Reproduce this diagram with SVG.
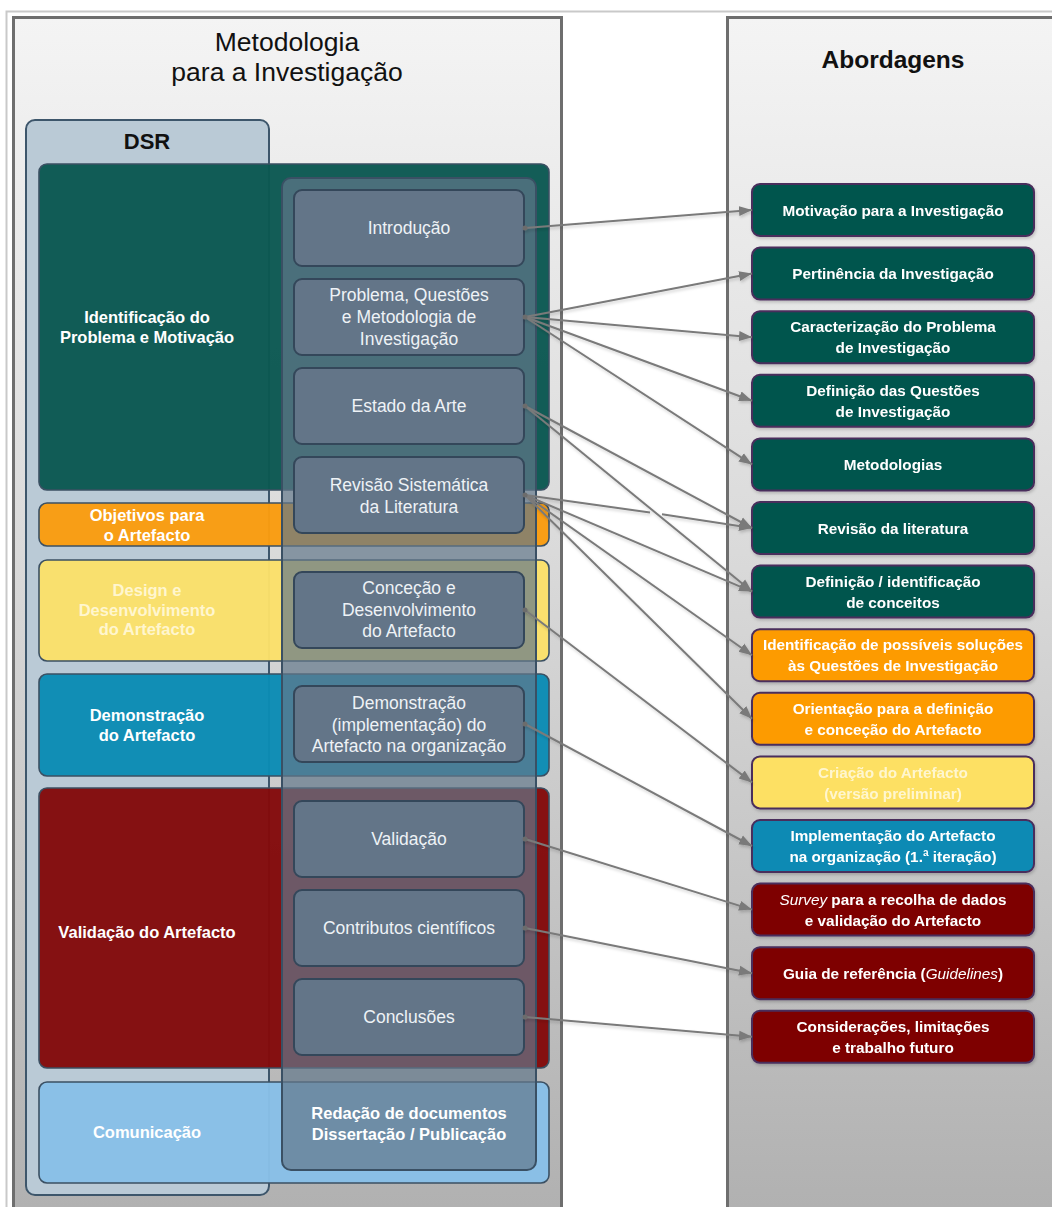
<svg xmlns="http://www.w3.org/2000/svg" width="1052" height="1207" viewBox="0 0 1052 1207">
  <defs>
    <linearGradient id="panelFill" gradientUnits="userSpaceOnUse" x1="0" y1="17" x2="0" y2="1207">
      <stop offset="0" stop-color="#f4f4f4"/>
      <stop offset="0.45" stop-color="#dadada"/>
      <stop offset="1" stop-color="#b1b1b1"/>
    </linearGradient>
    <marker id="arrow" markerUnits="userSpaceOnUse" markerWidth="14" markerHeight="12" viewBox="0 0 14 12" refX="13" refY="6" orient="auto">
      <path d="M0,1 L13,6 L0,11 Z" fill="#7a7a7a"/>
    </marker>
    <filter id="soft" x="-5%" y="-5%" width="110%" height="120%">
      <feDropShadow dx="1" dy="2" stdDeviation="1.5" flood-color="#000" flood-opacity="0.18"/>
    </filter>
    <style>
      .panel { fill: url(#panelFill); stroke: #6e6e6e; stroke-width: 3; }
      .title { font-family: "Liberation Sans", Arial, sans-serif; fill: #111; text-anchor: middle; }
      .bar { stroke: #3b5063; stroke-width: 1.6; fill-opacity: 0.97; }
      .lbl { font-family: "Liberation Sans", Arial, sans-serif; font-weight: bold; font-size: 16.5px; text-anchor: middle; fill: #ffffff; }
      .step { fill: #637588; stroke: #34475a; stroke-width: 2; }
      .stxt { font-family: "Liberation Sans", Arial, sans-serif; font-size: 17.5px; text-anchor: middle; fill: #eef2f6; }
      .out { stroke: #4a2d5c; stroke-width: 2; }
      .otxt { font-family: "Liberation Sans", Arial, sans-serif; font-weight: bold; font-size: 15.3px; text-anchor: middle; fill: #ffffff; }
      .it { font-style: italic; font-weight: normal; }
      .teal { fill: #04544e; }
      .orange { fill: #fd9b05; }
      .yellow { fill: #fde063; }
      .blue { fill: #0a8ab4; }
      .red { fill: #7e0303; }
      .pale { fill: #fff6cf; }
      .conn { fill: none; stroke: #7a7a7a; stroke-width: 2; }
      .src { fill: #6c6c6c; }
    </style>
  </defs>

  <!-- page background and outer frame -->
  <rect x="0" y="0" width="1052" height="1207" fill="#ffffff"/>
  <rect x="6.5" y="11.5" width="1100" height="1300" fill="#ffffff" stroke="#c9c9c9" stroke-width="2"/>

  <!-- left panel: research methodology -->
  <g id="panel-metodologia">
    <rect class="panel" x="13.5" y="17.5" width="548" height="1220"/>
    <text class="title" x="287" y="51" font-size="26.5">Metodologia</text>
    <text class="title" x="287" y="81" font-size="26.5">para a Investigação</text>
  </g>

  <!-- right panel: approaches -->
  <g id="panel-abordagens">
    <rect class="panel" x="727.5" y="17.5" width="400" height="1220"/>
    <text class="title" x="893" y="67.5" font-size="24.5" font-weight="bold">Abordagens</text>
  </g>

  <!-- DSR column -->
  <g id="dsr">
    <rect x="26" y="120" width="243" height="1075" rx="9" fill="#bacad6" stroke="#3d566b" stroke-width="2"/>
    <text class="title" x="147" y="149" font-size="22" font-weight="bold">DSR</text>
  </g>

  <!-- DSR phases -->
  <g id="fase-identificacao">
    <rect class="bar" x="39" y="164" width="510" height="326" rx="8" fill="#0b5852"/>
    <text class="lbl" x="147" y="323">Identificação do</text>
    <text class="lbl" x="147" y="343">Problema e Motivação</text>
  </g>
  <g id="fase-objetivos">
    <rect class="bar" x="39" y="503" width="510" height="43" rx="8" fill="#fa9c10"/>
    <text class="lbl" x="147" y="521">Objetivos para</text>
    <text class="lbl" x="147" y="541">o Artefacto</text>
  </g>
  <g id="fase-design">
    <rect class="bar" x="39" y="560" width="510" height="101" rx="8" fill="#fbe06a"/>
    <text class="lbl pale" x="147" y="596">Design e</text>
    <text class="lbl pale" x="147" y="616">Desenvolvimento</text>
    <text class="lbl pale" x="147" y="635">do Artefacto</text>
  </g>
  <g id="fase-demonstracao">
    <rect class="bar" x="39" y="674" width="510" height="102" rx="8" fill="#0b8bb4"/>
    <text class="lbl" x="147" y="721">Demonstração</text>
    <text class="lbl" x="147" y="741">do Artefacto</text>
  </g>
  <g id="fase-validacao">
    <rect class="bar" x="39" y="788" width="510" height="280" rx="8" fill="#830a0b"/>
    <text class="lbl" x="147" y="938">Validação do Artefacto</text>
  </g>
  <g id="fase-comunicacao">
    <rect class="bar" x="39" y="1082" width="510" height="101" rx="8" fill="#88bfe7"/>
    <text class="lbl" x="147" y="1138" fill="#f2f8fd">Comunicação</text>
  </g>

  <!-- translucent column holding the dissertation chapters -->
  <g id="capitulos">
    <rect x="282" y="178" width="254" height="992" rx="9" fill="#62778a" fill-opacity="0.7" stroke="#3a5064" stroke-width="2"/>
    <text class="lbl" x="409" y="1119" font-size="17.5px">Redação de documentos</text>
    <text class="lbl" x="409" y="1140" font-size="17.5px">Dissertação / Publicação</text>
  </g>

  <g id="cap-introducao">
    <rect class="step" x="294" y="190" width="230" height="76" rx="8"/>
    <text class="stxt" x="409" y="234">Introdução</text>
  </g>
  <g id="cap-problema">
    <rect class="step" x="294" y="279" width="230" height="76" rx="8"/>
    <text class="stxt" x="409" y="301">Problema, Questões</text>
    <text class="stxt" x="409" y="323">e Metodologia de</text>
    <text class="stxt" x="409" y="345">Investigação</text>
  </g>
  <g id="cap-estado-arte">
    <rect class="step" x="294" y="368" width="230" height="76" rx="8"/>
    <text class="stxt" x="409" y="412">Estado da Arte</text>
  </g>
  <g id="cap-revisao">
    <rect class="step" x="294" y="457" width="230" height="76" rx="8"/>
    <text class="stxt" x="409" y="491">Revisão Sistemática</text>
    <text class="stxt" x="409" y="513">da Literatura</text>
  </g>
  <g id="cap-concecao">
    <rect class="step" x="294" y="572" width="230" height="76" rx="8"/>
    <text class="stxt" x="409" y="594">Conceção e</text>
    <text class="stxt" x="409" y="616">Desenvolvimento</text>
    <text class="stxt" x="409" y="637">do Artefacto</text>
  </g>
  <g id="cap-demonstracao">
    <rect class="step" x="294" y="686" width="230" height="76" rx="8"/>
    <text class="stxt" x="409" y="709">Demonstração</text>
    <text class="stxt" x="409" y="731">(implementação) do</text>
    <text class="stxt" x="409" y="752">Artefacto na organização</text>
  </g>
  <g id="cap-validacao">
    <rect class="step" x="294" y="801" width="230" height="76" rx="8"/>
    <text class="stxt" x="409" y="845">Validação</text>
  </g>
  <g id="cap-contributos">
    <rect class="step" x="294" y="890" width="230" height="76" rx="8"/>
    <text class="stxt" x="409" y="934">Contributos científicos</text>
  </g>
  <g id="cap-conclusoes">
    <rect class="step" x="294" y="979" width="230" height="76" rx="8"/>
    <text class="stxt" x="409" y="1023">Conclusões</text>
  </g>

  <!-- approaches -->
  <g id="ab-motivacao" filter="url(#soft)">
    <rect class="out teal" x="752" y="184" width="282" height="52" rx="8"/>
    <text class="otxt" x="893" y="215.5">Motivação para a Investigação</text>
  </g>
  <g id="ab-pertinencia" filter="url(#soft)">
    <rect class="out teal" x="752" y="247.6" width="282" height="52" rx="8"/>
    <text class="otxt" x="893" y="279">Pertinência da Investigação</text>
  </g>
  <g id="ab-caracterizacao" filter="url(#soft)">
    <rect class="out teal" x="752" y="311.2" width="282" height="52" rx="8"/>
    <text class="otxt" x="893" y="332">Caracterização do Problema</text>
    <text class="otxt" x="893" y="353">de Investigação</text>
  </g>
  <g id="ab-questoes" filter="url(#soft)">
    <rect class="out teal" x="752" y="374.8" width="282" height="52" rx="8"/>
    <text class="otxt" x="893" y="396">Definição das Questões</text>
    <text class="otxt" x="893" y="417">de Investigação</text>
  </g>
  <g id="ab-metodologias" filter="url(#soft)">
    <rect class="out teal" x="752" y="438.4" width="282" height="52" rx="8"/>
    <text class="otxt" x="893" y="470">Metodologias</text>
  </g>
  <g id="ab-revisao" filter="url(#soft)">
    <rect class="out teal" x="752" y="502" width="282" height="52" rx="8"/>
    <text class="otxt" x="893" y="533.5">Revisão da literatura</text>
  </g>
  <g id="ab-conceitos" filter="url(#soft)">
    <rect class="out teal" x="752" y="565.6" width="282" height="52" rx="8"/>
    <text class="otxt" x="893" y="587">Definição / identificação</text>
    <text class="otxt" x="893" y="608">de conceitos</text>
  </g>
  <g id="ab-solucoes" filter="url(#soft)">
    <rect class="out orange" x="752" y="629.2" width="282" height="52" rx="8"/>
    <text class="otxt" x="893" y="650">Identificação de possíveis soluções</text>
    <text class="otxt" x="893" y="671">às Questões de Investigação</text>
  </g>
  <g id="ab-orientacao" filter="url(#soft)">
    <rect class="out orange" x="752" y="692.8" width="282" height="52" rx="8"/>
    <text class="otxt" x="893" y="714">Orientação para a definição</text>
    <text class="otxt" x="893" y="735">e conceção do Artefacto</text>
  </g>
  <g id="ab-criacao" filter="url(#soft)">
    <rect class="out yellow" x="752" y="756.4" width="282" height="52" rx="8"/>
    <text class="otxt pale" x="893" y="777.5">Criação do Artefacto</text>
    <text class="otxt pale" x="893" y="798.5">(versão preliminar)</text>
  </g>
  <g id="ab-implementacao" filter="url(#soft)">
    <rect class="out blue" x="752" y="820" width="282" height="52" rx="8"/>
    <text class="otxt" x="893" y="841">Implementação do Artefacto</text>
    <text class="otxt" x="893" y="862">na organização (1.ª iteração)</text>
  </g>
  <g id="ab-survey" filter="url(#soft)">
    <rect class="out red" x="752" y="883.6" width="282" height="52" rx="8"/>
    <text class="otxt" x="893" y="904.5"><tspan class="it">Survey</tspan> para a recolha de dados</text>
    <text class="otxt" x="893" y="925.5">e validação do Artefacto</text>
  </g>
  <g id="ab-guia" filter="url(#soft)">
    <rect class="out red" x="752" y="947.2" width="282" height="52" rx="8"/>
    <text class="otxt" x="893" y="978.7">Guia de referência (<tspan class="it">Guidelines</tspan>)</text>
  </g>
  <g id="ab-consideracoes" filter="url(#soft)">
    <rect class="out red" x="752" y="1010.8" width="282" height="52" rx="8"/>
    <text class="otxt" x="893" y="1032">Considerações, limitações</text>
    <text class="otxt" x="893" y="1053">e trabalho futuro</text>
  </g>

  <!-- connectors: chapter to approach -->
  <g id="connectors" filter="url(#soft)">
    <path class="conn" d="M525,228 L752,210" marker-end="url(#arrow)"/>
    <path class="conn" d="M525,317 L752,273.6" marker-end="url(#arrow)"/>
    <path class="conn" d="M525,317 L752,337.2" marker-end="url(#arrow)"/>
    <path class="conn" d="M525,317 L752,400.8" marker-end="url(#arrow)"/>
    <path class="conn" d="M525,317 L752,464.4" marker-end="url(#arrow)"/>
    <path class="conn" d="M525,406 L752,528" marker-end="url(#arrow)"/>
    <path class="conn" d="M525,406 L752,591.6" marker-end="url(#arrow)"/>
    <path class="conn" d="M525,495 L650,512.6 M662,514.3 L752,528" marker-end="url(#arrow)"/>
    <path class="conn" d="M525,495 L752,591.6" marker-end="url(#arrow)"/>
    <path class="conn" d="M525,495 L752,655.2" marker-end="url(#arrow)"/>
    <path class="conn" d="M525,495 L752,718.8" marker-end="url(#arrow)"/>
    <path class="conn" d="M525,610 L752,782.4" marker-end="url(#arrow)"/>
    <path class="conn" d="M525,724 L752,846" marker-end="url(#arrow)"/>
    <path class="conn" d="M525,839 L752,909.6" marker-end="url(#arrow)"/>
    <path class="conn" d="M525,928 L752,973.2" marker-end="url(#arrow)"/>
    <path class="conn" d="M525,1017 L752,1036.8" marker-end="url(#arrow)"/>
    <circle class="src" cx="525" cy="228" r="2.5"/>
    <circle class="src" cx="525" cy="317" r="2.5"/>
    <circle class="src" cx="525" cy="406" r="2.5"/>
    <circle class="src" cx="525" cy="495" r="2.5"/>
    <circle class="src" cx="525" cy="610" r="2.5"/>
    <circle class="src" cx="525" cy="724" r="2.5"/>
    <circle class="src" cx="525" cy="839" r="2.5"/>
    <circle class="src" cx="525" cy="928" r="2.5"/>
    <circle class="src" cx="525" cy="1017" r="2.5"/>
  </g>
</svg>
